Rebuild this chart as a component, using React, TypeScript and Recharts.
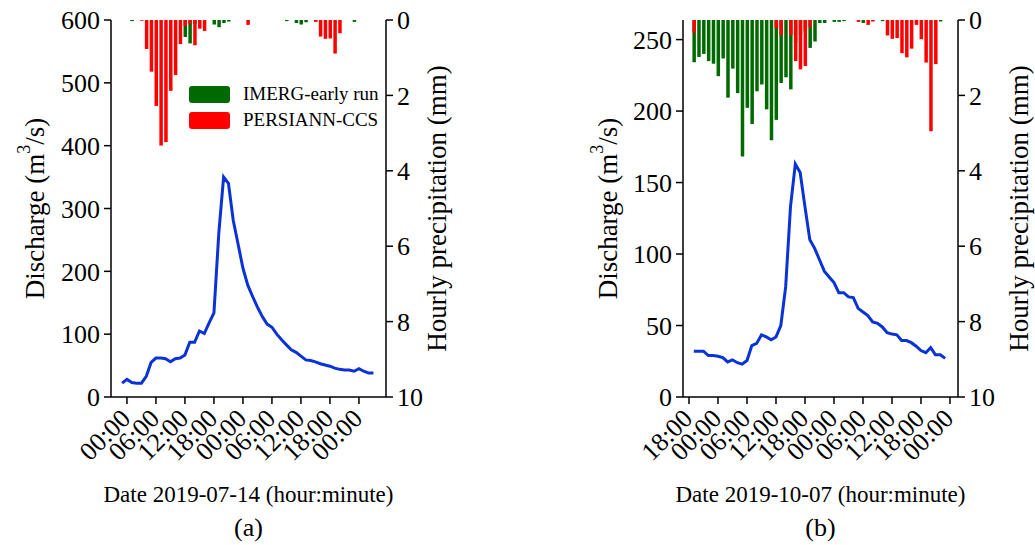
import { ComposedChart, Bar, Line, XAxis, YAxis, Label } from "recharts";

const FONT = "'Liberation Serif', 'Times New Roman', serif";
const GREEN = "#006a00";
const RED = "#ff0000";
const BLUE = "#0a33d6";

// (a) hours counted from 2019-07-14 00:00
const hoursA = [
  -1, 0, 1, 2, 3, 4, 5, 6, 7, 8, 9, 10, 11, 12, 13, 14, 15, 16, 17, 18, 19, 20, 21, 22, 23, 24, 25,
  26, 27, 28, 29, 30, 31, 32, 33, 34, 35, 36, 37, 38, 39, 40, 41, 42, 43, 44, 45, 46, 47, 48, 49, 50, 51
];
const dischargeA = [
  22, 28, 23, 22, 22, 33, 55, 62, 62, 61, 56, 61, 62, 67, 87, 87, 105, 101, 118, 134, 260, 350, 340,
  281, 243, 205, 178, 160, 143, 128, 116, 111, 100, 91, 83, 75, 71, 65, 59, 58, 56, 53, 51, 49, 46,
  44, 43, 43, 41, 45, 41, 38, 38
];
const imergA = [
  0, 0, 0.03, 0, 0, 0, 0, 0, 0, 0, 0, 0, 0, 0.45, 0.62, 0.1, 0, 0, 0, 0.12, 0.19, 0.08, 0.04,
  0, 0, 0, 0, 0, 0, 0, 0, 0, 0, 0, 0.03, 0, 0.08, 0.12, 0.06, 0, 0, 0, 0, 0, 0, 0,
  0, 0, 0.05, 0, 0, 0, 0
];
const persiannA = [
  0, 0, 0, 0, 0.02, 0.77, 1.37, 2.28, 3.33, 3.24, 1.88, 1.46, 0.64, 0.16, 0.1, 0.67, 0.23, 0.29, 0,
  0, 0, 0, 0, 0, 0, 0, 0.13, 0, 0, 0, 0, 0, 0, 0, 0, 0, 0, 0, 0, 0, 0.05, 0.44, 0.5, 0.49, 0.89,
  0.35, 0, 0, 0, 0, 0, 0, 0
];
const tickHoursA = [0, 6, 12, 18, 24, 30, 36, 42, 48];
const tickLabelsA = ["00:00", "06:00", "12:00", "18:00", "00:00", "06:00", "12:00", "18:00", "00:00"];

// (b) hours counted from the first 18:00 tick
const hoursB = [
  1, 2, 3, 4, 5, 6, 7, 8, 9, 10, 11, 12, 13, 14, 15, 16, 17, 18, 19, 20, 21, 22, 23, 24, 25, 26, 27,
  28, 29, 30, 31, 32, 33, 34, 35, 36, 37, 38, 39, 40, 41, 42, 43, 44, 45, 46, 47, 48, 49, 50, 51, 52, 53
];
const dischargeB = [
  32, 32, 32, 29, 29, 28.5, 27.5, 24.5, 26, 24, 23, 25.5, 36, 37.5, 43.5, 42, 40, 42, 50, 77, 133,
  163, 157, 133, 110, 104, 96, 88, 84, 80, 73, 73, 70, 69.5, 62, 59.5, 57, 52.5, 51.5, 49, 45, 44,
  43.5, 39.5, 39.5, 38, 35.5, 32.5, 31, 34.5, 29.5, 29.5, 27
];
const imergB = [
  1.12, 0.98, 0.9, 1.09, 1.16, 1.49, 1.02, 2.06, 1.29, 1.94, 3.62, 2.33, 2.76, 1.89, 1.71, 2.37,
  3.19, 2.65, 1.67, 1.52, 1.84, 0.6, 0.4, 0.3, 0.74, 0.57, 0.08, 0.08, 0, 0.05, 0.05, 0.03, 0, 0,
  0, 0.08, 0, 0, 0, 0.03, 0, 0, 0, 0, 0, 0, 0, 0, 0, 0, 0, 0.04, 0
];
const persiannB = [
  0.34, 0, 0, 0, 0, 0, 0, 0, 0, 0, 0, 0, 0, 0, 0, 0, 0, 0.22, 0.4, 0, 0.4, 1.09, 1.31, 1.22, 0.19,
  0, 0, 0, 0, 0, 0, 0, 0, 0, 0.05, 0, 0.13, 0.04, 0, 0, 0.41, 0.5, 0.48, 0.88, 0.99, 0.76, 0.13,
  0.51, 1.13, 2.95, 1.17, 0, 0
];
const tickHoursB = [0, 6, 12, 18, 24, 30, 36, 42, 48, 54];
const tickLabelsB = ["18:00", "00:00", "06:00", "12:00", "18:00", "00:00", "06:00", "12:00", "18:00", "00:00"];

const qTicksA = [0, 100, 200, 300, 400, 500, 600];
const qTicksB = [0, 50, 100, 150, 200, 250];
const pTicks = [0, 2, 4, 6, 8, 10];

const seriesNames = ["IMERG-early run", "PERSIANN-CCS"];
const seriesColors = [GREEN, RED];

function rows(hours: number[], q: number[], g: number[], r: number[]) {
  return hours.map((h, i) => ({ hour: h, discharge: q[i], imerg: g[i], persiann: r[i] }));
}

const dataA = rows(hoursA, dischargeA, imergA, persiannA);
const dataB = rows(hoursB, dischargeB, imergB, persiannB);

const TICK_FS = 26;
const YTITLE_FS = 27;
const XTITLE_FS = 23;
const TAG_FS = 26;

function RotTick(props: any) {
  const { x, y, payload, ticks, labels } = props;
  const i = ticks.indexOf(payload.value);
  return (
    <text
      transform={`translate(${x + 5},${y + 14}) rotate(-45)`}
      textAnchor="end"
      fontSize={TICK_FS}
      fill="#000"
    >
      {labels[i]}
    </text>
  );
}

function LegendBox() {
  return (
    <div
      style={{ position: "absolute", left: 189, top: 81, fontFamily: FONT, fontSize: 19, color: "#000" }}
    >
      {seriesNames.map((name, i) => (
        <div key={name} style={{ display: "flex", alignItems: "center", height: 26 }}>
          <div
            style={{ width: 41, height: 17, background: seriesColors[i], borderRadius: 3, marginRight: 13 }}
          />
          <span>{name}</span>
        </div>
      ))}
    </div>
  );
}

type PanelProps = {
  data: any[];
  xDomain: [number, number];
  xTicks: number[];
  xLabels: string[];
  qDomain: [number, number];
  qTicks: number[];
  dateTitle: string;
  tag: string;
  left: number;
  width: number;
  marginLeft: number;
  marginRight: number;
  leftTitleX: number;
  rightTitleX: number;
  legend?: boolean;
};

function Panel(p: PanelProps) {
  const axisStyle = { stroke: "#000", strokeWidth: 1.5 };
  const tickStyle = { fill: "#000", fontSize: TICK_FS };
  return (
    <div style={{ position: "absolute", left: p.left, top: 0, width: p.width, height: 545 }}>
      <ComposedChart
        width={p.width}
        height={545}
        data={p.data}
        margin={{ top: 20, right: p.marginRight, bottom: 88, left: p.marginLeft }}
      >
        <XAxis
          xAxisId="main"
          dataKey="hour"
          type="number"
          domain={p.xDomain}
          allowDataOverflow
          ticks={p.xTicks}
          interval={0}
          height={60}
          axisLine={axisStyle}
          tickLine={axisStyle}
          tickSize={7}
          tick={<RotTick ticks={p.xTicks} labels={p.xLabels} />}
        >
          <Label
            content={(lp: any) => {
              const vb = lp.viewBox;
              const cx = vb.x + vb.width / 2;
              return (
                <g fill="#000">
                  <text x={cx} y={502} textAnchor="middle" fontSize={XTITLE_FS}>{p.dateTitle}</text>
                  <text x={cx} y={536} textAnchor="middle" fontSize={TAG_FS}>{p.tag}</text>
                </g>
              );
            }}
          />
        </XAxis>
        <XAxis
          xAxisId="top"
          orientation="top"
          dataKey="hour"
          type="number"
          domain={p.xDomain}
          allowDataOverflow
          height={0}
          tick={false}
          tickLine={false}
          axisLine={axisStyle}
        />
        <YAxis
          yAxisId="q"
          domain={p.qDomain}
          ticks={p.qTicks}
          allowDataOverflow
          width={70}
          axisLine={axisStyle}
          tickLine={axisStyle}
          tickSize={7}
          tickMargin={4}
          tick={tickStyle}
        >
          <Label
            content={(lp: any) => {
              const vb = lp.viewBox;
              const cy = vb.y + vb.height / 2;
              return (
                <text
                  transform={`translate(${p.leftTitleX},${cy}) rotate(-90)`}
                  textAnchor="middle"
                  dominantBaseline="central"
                  fontSize={YTITLE_FS}
                  fill="#000"
                >
                  Discharge (m<tspan dy={-11} fontSize={18}>3</tspan>
                  <tspan dy={11}>/s)</tspan>
                </text>
              );
            }}
          />
        </YAxis>
        <YAxis
          yAxisId="p"
          orientation="right"
          reversed
          domain={[0, 10]}
          ticks={pTicks}
          allowDataOverflow
          width={70}
          axisLine={axisStyle}
          tickLine={axisStyle}
          tickSize={7}
          tickMargin={4}
          tick={tickStyle}
        >
          <Label
            content={(lp: any) => {
              const vb = lp.viewBox;
              const cy = vb.y + vb.height / 2;
              return (
                <text
                  transform={`translate(${p.rightTitleX},${cy}) rotate(-90)`}
                  textAnchor="middle"
                  dominantBaseline="central"
                  fontSize={YTITLE_FS}
                  fill="#000"
                >
                  Hourly precipitation (mm)
                </text>
              );
            }}
          />
        </YAxis>
        <Bar
          xAxisId="top"
          yAxisId="p"
          dataKey="imerg"
          name={seriesNames[0]}
          fill={GREEN}
          barSize={3.5}
          isAnimationActive={false}
        />
        <Bar
          xAxisId="main"
          yAxisId="p"
          dataKey="persiann"
          name={seriesNames[1]}
          fill={RED}
          barSize={3.5}
          isAnimationActive={false}
        />
        <Line
          xAxisId="main"
          yAxisId="q"
          dataKey="discharge"
          stroke={BLUE}
          strokeWidth={3}
          dot={false}
          isAnimationActive={false}
        />
      </ComposedChart>
      {p.legend && <LegendBox />}
    </div>
  );
}

export default function App() {
  return (
    <div
      style={{
        position: "absolute",
        left: 0,
        top: 0,
        width: 1035,
        height: 545,
        background: "#fff",
        fontFamily: FONT,
        overflow: "hidden"
      }}
    >
      <style>{`svg text, svg tspan { font-family: 'Liberation Serif', 'Times New Roman', serif !important; }`}</style>
      <Panel
        data={dataA}
        xDomain={[-3.3, 53.6]}
        xTicks={tickHoursA}
        xLabels={tickLabelsA}
        qDomain={[0, 600]}
        qTicks={qTicksA}
        dateTitle="Date 2019-07-14 (hour:minute)"
        tag="(a)"
        left={0}
        width={517}
        marginLeft={41}
        marginRight={61}
        leftTitleX={35}
        rightTitleX={437}
        legend
      />
      <Panel
        data={dataB}
        xDomain={[-1.24, 55.66]}
        xTicks={tickHoursB}
        xLabels={tickLabelsB}
        qDomain={[0, 263.7]}
        qTicks={qTicksB}
        dateTitle="Date 2019-10-07 (hour:minute)"
        tag="(b)"
        left={517}
        width={518}
        marginLeft={96}
        marginRight={7}
        leftTitleX={91}
        rightTitleX={502}
      />
    </div>
  );
}
